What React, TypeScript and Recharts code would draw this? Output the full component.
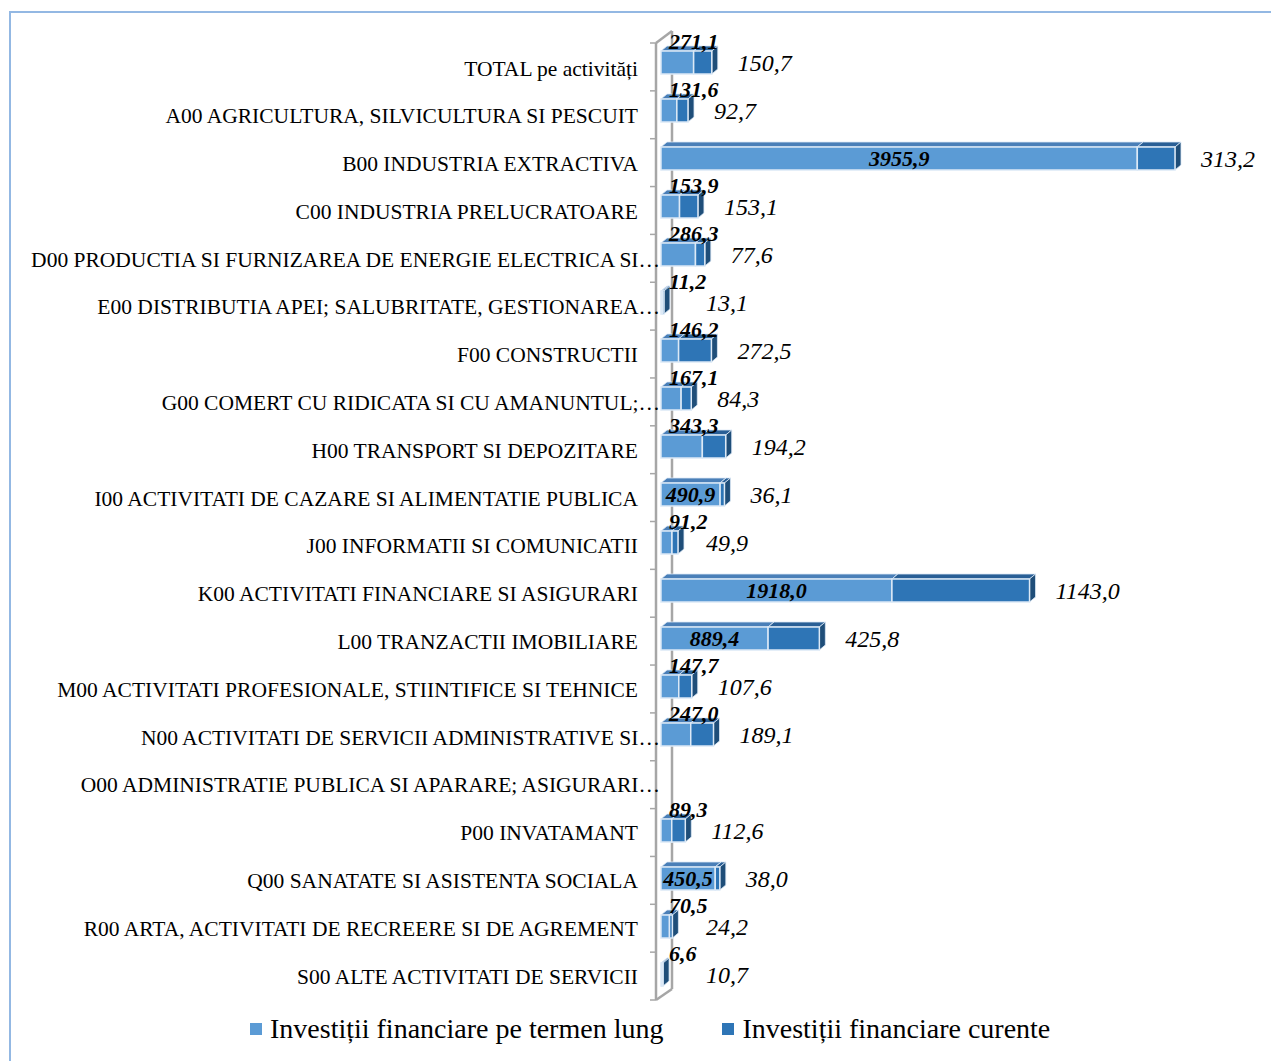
import React from "react";
import { BarChart, Bar, XAxis, YAxis, LabelList } from "recharts";

const categories = [
  "TOTAL pe activități",
  "A00 AGRICULTURA, SILVICULTURA SI PESCUIT",
  "B00 INDUSTRIA EXTRACTIVA",
  "C00 INDUSTRIA PRELUCRATOARE",
  "D00 PRODUCTIA SI FURNIZAREA DE ENERGIE ELECTRICA SI…",
  "E00 DISTRIBUTIA APEI; SALUBRITATE, GESTIONAREA…",
  "F00 CONSTRUCTII",
  "G00 COMERT CU RIDICATA SI CU AMANUNTUL;…",
  "H00 TRANSPORT SI DEPOZITARE",
  "I00 ACTIVITATI DE CAZARE SI ALIMENTATIE PUBLICA",
  "J00 INFORMATII SI COMUNICATII",
  "K00 ACTIVITATI FINANCIARE SI ASIGURARI",
  "L00 TRANZACTII IMOBILIARE",
  "M00 ACTIVITATI PROFESIONALE, STIINTIFICE SI TEHNICE",
  "N00 ACTIVITATI DE SERVICII ADMINISTRATIVE SI…",
  "O00 ADMINISTRATIE PUBLICA SI APARARE; ASIGURARI…",
  "P00 INVATAMANT",
  "Q00 SANATATE SI ASISTENTA SOCIALA",
  "R00 ARTA, ACTIVITATI DE RECREERE SI DE AGREMENT",
  "S00 ALTE ACTIVITATI DE SERVICII",
];

const longTerm: (number | null)[] = [
  271.1, 131.6, 3955.9, 153.9, 286.3, 11.2, 146.2, 167.1, 343.3, 490.9,
  91.2, 1918.0, 889.4, 147.7, 247.0, null, 89.3, 450.5, 70.5, 6.6,
];

const current: (number | null)[] = [
  150.7, 92.7, 313.2, 153.1, 77.6, 13.1, 272.5, 84.3, 194.2, 36.1,
  49.9, 1143.0, 425.8, 107.6, 189.1, null, 112.6, 38.0, 24.2, 10.7,
];

const seriesNames = ["Investiții financiare pe termen lung", "Investiții financiare curente"];

const data = categories.map((name, i) => ({
  name,
  lung: longTerm[i],
  curente: current[i],
}));

const W = 1271;
const H = 1061;
const PLOT_LEFT = 661;
const PLOT_TOP = 38;
const PLOT_BOTTOM_MARGIN = 63;
const PLOT_H = H - PLOT_TOP - PLOT_BOTTOM_MARGIN;
const FONT = '"Liberation Serif", "Times New Roman", serif';

const LIGHT = { front: "#5B9BD5", top: "#4A7FB8", side: "#41719C" };
const DARK = { front: "#2E75B6", top: "#295F96", side: "#1F4E79" };

const fmt = (v: number) => v.toFixed(1).replace(".", ",");

const makeBox = (c: { front: string; top: string; side: string }, key: string) => (props: any) => {
  const { x, y, width, height, payload } = props;
  if (width == null || height == null || isNaN(width)) return null;
  if (!payload || payload[key] == null) return null;
  const w = Math.max(width, 0);
  const dx = 6;
  const dy = 5;
  return (
    <g>
      <polygon
        points={`${x},${y} ${x + dx},${y - dy} ${x + w + dx},${y - dy} ${x + w},${y}`}
        fill={c.top}
        stroke="#DCE9F6"
        strokeWidth={0.8}
      />
      <polygon
        points={`${x + w},${y} ${x + w + dx},${y - dy} ${x + w + dx},${y + height - dy} ${x + w},${y + height}`}
        fill={c.side}
        stroke="#DCE9F6"
        strokeWidth={0.8}
      />
      <rect x={x} y={y} width={w} height={height} fill={c.front} stroke="#DCE9F6" strokeWidth={1.5} />
    </g>
  );
};

const LongLabel = (props: any) => {
  const { x, y, width, height, value } = props;
  if (value == null) return null;
  const cy = y + height / 2;
  const style = { fontFamily: FONT, fontSize: 22, fontWeight: 700, fontStyle: "italic" as const };
  if (width >= 50) {
    return (
      <text x={x + width / 2} y={cy} dy="0.35em" textAnchor="middle" fill="#000" style={style}>
        {fmt(value)}
      </text>
    );
  }
  return (
    <text x={x + 8} y={cy - 21} dy="0.35em" textAnchor="start" fill="#000" style={style}>
      {fmt(value)}
    </text>
  );
};

const CurLabel = (props: any) => {
  const { x, y, width, height, value } = props;
  if (value == null) return null;
  const cy = y + height / 2;
  return (
    <text
      x={Math.max(x + width + 26, PLOT_LEFT + 45)}
      y={cy}
      dy="0.35em"
      textAnchor="start"
      fill="#000"
      style={{ fontFamily: FONT, fontSize: 24, fontStyle: "italic" }}
    >
      {fmt(value)}
    </text>
  );
};

const CategoryTick = (props: any) => {
  const { x, y, payload, index } = props;
  const label: string = payload.value;
  const shift = label.endsWith("…") ? 22 : 0;
  const n = categories.length;
  const dyOff = 6 - (4 * (index ?? 0)) / (n - 1);
  return (
    <text
      x={x + shift}
      y={y + dyOff}
      dy="0.35em"
      textAnchor="end"
      fill="#000"
      style={{ fontFamily: FONT, fontSize: 21.5 }}
    >
      {label}
    </text>
  );
};

const Wall = () => {
  const fx = PLOT_LEFT - 5;
  const bx = PLOT_LEFT + 11;
  const fTop = PLOT_TOP + 5;
  const fBot = PLOT_TOP + PLOT_H + 2;
  const bTop = PLOT_TOP - 7;
  const bBot = PLOT_TOP + PLOT_H - 9;
  const n = categories.length;
  const step = (fBot - fTop) / n;
  const stroke = "#A6A6A6";
  return (
    <svg width={W} height={H} style={{ position: "absolute", left: 0, top: 0 }}>
      <line x1={fx} y1={fTop} x2={fx} y2={fBot} stroke={stroke} strokeWidth={2.5} />
      <line x1={bx} y1={bTop} x2={bx} y2={bBot} stroke={stroke} strokeWidth={2.5} />
      <line x1={fx} y1={fTop} x2={bx} y2={bTop} stroke={stroke} strokeWidth={2.5} />
      <line x1={fx} y1={fBot} x2={bx} y2={bBot} stroke={stroke} strokeWidth={2.5} />
      {Array.from({ length: n + 1 }).map((_, k) => (
        <line key={k} x1={fx - 6} y1={fTop + k * step} x2={fx} y2={fTop + k * step} stroke={stroke} strokeWidth={1.5} />
      ))}
    </svg>
  );
};

export default function App() {
  return (
    <div style={{ position: "fixed", left: 0, top: 0, width: W, height: H, overflow: "hidden", background: "#fff" }}>
      <div
        style={{
          position: "absolute",
          left: 9,
          top: 11,
          width: 1400,
          height: 1200,
          border: "2px solid #93B8E3",
          boxSizing: "border-box",
        }}
      />
      <Wall />
      <div style={{ position: "absolute", left: 0, top: 0 }}>
        <BarChart
          width={W}
          height={H}
          data={data}
          layout="vertical"
          margin={{ top: PLOT_TOP, right: 8, bottom: PLOT_BOTTOM_MARGIN, left: 0 }}
          barSize={23}
        >
          <XAxis type="number" domain={[0, 5000]} hide />
          <YAxis
            type="category"
            dataKey="name"
            width={PLOT_LEFT}
            axisLine={false}
            tickLine={false}
            tickSize={0}
            tickMargin={23}
            interval={0}
            tick={<CategoryTick />}
          />
          <Bar dataKey="lung" stackId="a" isAnimationActive={false} shape={makeBox(LIGHT, "lung")}>
            <LabelList dataKey="lung" content={<LongLabel />} />
          </Bar>
          <Bar dataKey="curente" stackId="a" isAnimationActive={false} shape={makeBox(DARK, "curente")}>
            <LabelList dataKey="curente" content={<CurLabel />} />
          </Bar>
        </BarChart>
      </div>
      <div
        style={{
          position: "absolute",
          left: 250,
          top: 1013,
          display: "flex",
          alignItems: "center",
          fontFamily: FONT,
          fontSize: 28,
          color: "#000",
          whiteSpace: "nowrap",
        }}
      >
        <span style={{ display: "inline-block", width: 12, height: 12, background: LIGHT.front, marginRight: 8 }} />
        <span style={{ marginRight: 59 }}>{seriesNames[0]}</span>
        <span style={{ display: "inline-block", width: 12, height: 12, background: DARK.front, marginRight: 8 }} />
        <span>{seriesNames[1]}</span>
      </div>
    </div>
  );
}
